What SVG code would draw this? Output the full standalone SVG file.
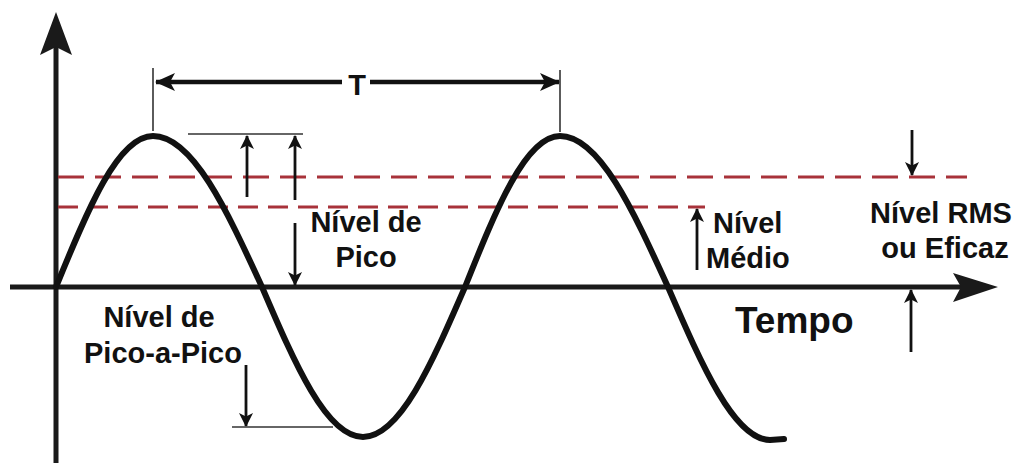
<svg xmlns="http://www.w3.org/2000/svg" width="1018" height="463" viewBox="0 0 1018 463">
<style>
.lbl{font-family:"Liberation Sans",Arial,sans-serif;font-weight:bold;font-size:29px;fill:#111}
.big{font-size:37px}
.thin{stroke:#333;stroke-width:1.6;fill:none}
.arr{stroke:#111;stroke-width:2.8;fill:none;marker-end:url(#ah)}
.dash{stroke:#a8323a;stroke-width:3;fill:none}
.axis{stroke:#1a1a1a;stroke-width:5;fill:none}
</style>
<defs>
<marker id="ah" viewBox="0 0 14 14" refX="13" refY="7" markerWidth="14" markerHeight="14" markerUnits="userSpaceOnUse" orient="auto">
<path d="M0,0 L14,7 L0,14 L3.5,7 z" fill="#111"/>
</marker>
<marker id="ahT" viewBox="0 0 20 20" refX="19" refY="10" markerWidth="20" markerHeight="20" markerUnits="userSpaceOnUse" orient="auto-start-reverse">
<path d="M0,1 L20,10 L0,19 L5,10 z" fill="#111"/>
</marker>
</defs>
<rect width="1018" height="463" fill="#fff"/>
<g id="axes">
<line class="axis" x1="56" y1="463" x2="56" y2="40"/>
<path d="M56,12 L72,55 L56,47 L40,55 z" fill="#1a1a1a"/>
<line class="axis" x1="10" y1="287" x2="975" y2="287"/>
<path d="M998,287 L953,273 L961,287 L953,302 z" fill="#1a1a1a"/>
</g>
<g id="levels">
<line class="dash" x1="58" y1="177" x2="967" y2="177" stroke-dasharray="26 11"/>
<line class="dash" x1="58" y1="207" x2="705" y2="207" stroke-dasharray="20 10"/>
</g>
<g id="wave">
<path d="M56,287 C87.6,209.6 117.9,136 153,136 C192.5,136 226.5,209.6 262,287 C294.9,363.8 326.4,437 363,437 C399.9,437 431.7,363.8 465,287 C496,209.6 525.6,136 560,136 C599.1,136 632.8,209.6 668,287 C701.9,365.4 734.4,440 770,440 L784,439" fill="none" stroke="#111" stroke-width="6" stroke-linecap="round"/>
</g>
<g id="connectors">
<line class="thin" x1="153" y1="68" x2="153" y2="131"/>
<line class="thin" x1="560" y1="70" x2="560" y2="132"/>
<line x1="342" y1="82" x2="156" y2="82" stroke="#111" stroke-width="4.5" marker-end="url(#ahT)"/>
<line x1="370" y1="82" x2="559" y2="82" stroke="#111" stroke-width="4.5" marker-end="url(#ahT)"/>
<line class="thin" x1="188" y1="134" x2="303" y2="134"/>
<line class="arr" x1="247" y1="197" x2="247" y2="136"/>
<line class="arr" x1="295" y1="200" x2="295" y2="136"/>
<line class="arr" x1="295" y1="223" x2="295" y2="285"/>
<line class="arr" x1="246" y1="365" x2="246" y2="426"/>
<line class="thin" x1="232" y1="427" x2="333" y2="427"/>
<line class="arr" x1="697" y1="270" x2="697" y2="209"/>
<line class="arr" x1="912" y1="130" x2="912" y2="175"/>
<line class="arr" x1="911" y1="352" x2="911" y2="290"/>
</g>
<g id="label-T"><text class="lbl" x="357" y="95" text-anchor="middle">T</text></g>
<g id="label-pico">
<text class="lbl" x="366" y="232" text-anchor="middle">Nível de</text>
<text class="lbl" x="366" y="267" text-anchor="middle">Pico</text>
</g>
<g id="label-ppico">
<text class="lbl" x="159" y="327" text-anchor="middle">Nível de</text>
<text class="lbl" x="163" y="363" text-anchor="middle">Pico-a-Pico</text>
</g>
<g id="label-medio">
<text class="lbl" x="713" y="233">Nível</text>
<text class="lbl" x="706" y="268">Médio</text>
</g>
<g id="label-rms">
<text class="lbl" x="941" y="223" text-anchor="middle">Nível RMS</text>
<text class="lbl" x="945" y="258" text-anchor="middle">ou Eficaz</text>
</g>
<g id="label-tempo"><text class="lbl big" x="735" y="333">Tempo</text></g>
</svg>
